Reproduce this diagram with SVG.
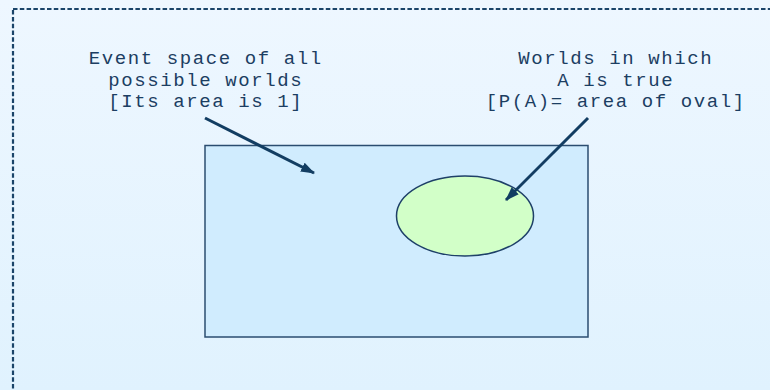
<svg xmlns="http://www.w3.org/2000/svg" width="770" height="390" viewBox="0 0 770 390">
<defs>
<linearGradient id="bg" x1="0" y1="0" x2="0" y2="1">
<stop offset="0" stop-color="#eef7ff"/>
<stop offset="1" stop-color="#e0f2fe"/>
</linearGradient>
<marker id="ah" markerWidth="14" markerHeight="10" refX="13" refY="5" orient="auto" markerUnits="userSpaceOnUse">
<path d="M0,0 L14,5 L0,10 Z" fill="#123d62"/>
</marker>
<style>
.lbl{font-family:"Liberation Mono","Courier New",monospace;font-size:19px;letter-spacing:1.6px;fill:#1c3e62;text-anchor:middle}
.conn{stroke:#123d62;stroke-width:3;fill:none;marker-end:url(#ah)}
</style>
</defs>
<rect x="0" y="0" width="770" height="390" fill="url(#bg)"/>
<rect x="13" y="9" width="800" height="420" fill="none" stroke="#1a4469" stroke-width="2.2" stroke-dasharray="4.5,2.3"/>
<g id="space">
<rect x="205" y="145.5" width="383" height="191.5" fill="#d0ecfe" stroke="#2b4d70" stroke-width="1.5"/>
</g>
<g id="oval">
<ellipse cx="465" cy="216" rx="68.5" ry="40" fill="#d2ffc8" stroke="#1e4068" stroke-width="1.5"/>
</g>
<g id="label-space">
<text class="lbl" x="205.8" y="64">Event space of all</text>
<text class="lbl" x="205.8" y="86">possible worlds</text>
<text class="lbl" x="205.8" y="107">[Its area is 1]</text>
</g>
<g id="label-a">
<text class="lbl" x="615.8" y="64">Worlds in which</text>
<text class="lbl" x="615.8" y="86">A is true</text>
<text class="lbl" x="615.8" y="107">[P(A)= area of oval]</text>
</g>
<g id="connectors">
<line class="conn" x1="205" y1="118" x2="314" y2="173"/>
<line class="conn" x1="588" y1="118" x2="506" y2="200"/>
</g>
</svg>
